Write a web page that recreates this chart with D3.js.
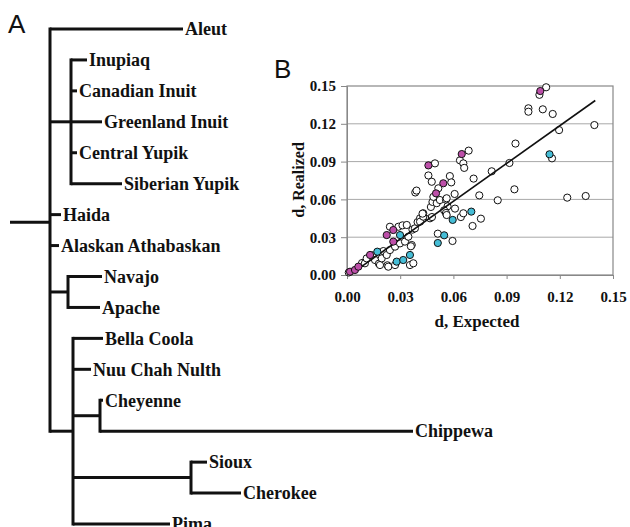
<!DOCTYPE html>
<html>
<head>
<meta charset="utf-8">
<script src="https://cdn.jsdelivr.net/npm/d3@7"></script>
<style>
  body { margin: 0; background: #fff; }
  svg text { font-family: "Liberation Serif", "Times New Roman", serif; font-weight: bold; fill: #111; }
  svg text.panel { font-family: "Liberation Sans", Arial, sans-serif; font-weight: normal; }
</style>
</head>
<body>
<div id="content"></div>
<script>
// panel A : tree, [node, parent, branch length]
var branches = [
  ["root", null, 0.040],
  ["Aleut", "root", 0.133],
  ["Eskimo", "root", 0.021],
  ["Inupiaq", "Eskimo", 0.016],
  ["Canadian Inuit", "Eskimo", 0.006],
  ["Greenland Inuit", "Eskimo", 0.031],
  ["Central Yupik", "Eskimo", 0.006],
  ["Siberian Yupik", "Eskimo", 0.051],
  ["Haida", "root", 0.011],
  ["Alaskan Athabaskan", "root", 0.009],
  ["Athabaskan", "root", 0.018],
  ["Navajo", "Athabaskan", 0.034],
  ["Apache", "Athabaskan", 0.032],
  ["Amerind", "root", 0.023],
  ["Bella Coola", "Amerind", 0.030],
  ["Nuu Chah Nulth", "Amerind", 0.018],
  ["Algonquian", "Amerind", 0.027],
  ["Cheyenne", "Algonquian", 0.003],
  ["Chippewa", "Algonquian", 0.313],
  ["SiouxCherokee", "Amerind", 0.118],
  ["Sioux", "SiouxCherokee", 0.016],
  ["Cherokee", "SiouxCherokee", 0.050],
  ["Pima", "Amerind", 0.097]
];

// panel B : [d expected, d realized]
var openPoints = [
  [0.001,0.002],[0.0085,0.0095],[0.0101,0.0093],[0.0111,0.0132],[0.0143,0.0156],[0.0158,0.0119],
  [0.018,0.009],[0.0186,0.0079],[0.0196,0.0132],[0.0205,0.019],[0.0224,0.0159],[0.0228,0.0077],
  [0.0233,0.0066],[0.0242,0.0198],[0.0271,0.0225],[0.0271,0.0079],[0.0299,0.0251],[0.0327,0.0265],
  [0.0346,0.0304],[0.0365,0.0238],[0.0355,0.0079],[0.0374,0.0093],[0.036,0.0228],
  [0.0242,0.0383],[0.029,0.0383],[0.0313,0.0394],[0.0337,0.0397],[0.0369,0.036],[0.0383,0.037],
  [0.0398,0.042],[0.0412,0.045],[0.043,0.049],[0.0412,0.0423],[0.043,0.0463],[0.0468,0.045],
  [0.0479,0.046],[0.0426,0.0487],[0.0385,0.0655],[0.0392,0.067],
  [0.0459,0.079],[0.0478,0.074],[0.0496,0.0886],[0.0473,0.054],[0.0482,0.058],[0.0506,0.057],
  [0.0515,0.0688],[0.0487,0.062],[0.0524,0.0595],
  [0.0558,0.0598],[0.0562,0.0609],[0.0567,0.0545],[0.0548,0.0513],[0.0609,0.0527],[0.0642,0.046],
  [0.0558,0.0492],[0.0562,0.0476],[0.0607,0.0643],[0.058,0.0785],[0.0588,0.0735],
  [0.0637,0.091],[0.0656,0.0886],[0.0661,0.085],[0.0686,0.0987],
  [0.0512,0.0328],[0.0595,0.027],[0.0656,0.049],[0.0708,0.0389],[0.0755,0.0447],
  [0.0714,0.0765],[0.0746,0.0632],[0.0816,0.0823],[0.085,0.0593],[0.0916,0.0889],[0.0944,0.068],
  [0.095,0.1043],[0.1023,0.1323],[0.1023,0.1296],[0.1085,0.143],[0.1123,0.149],[0.1104,0.1315],
  [0.116,0.1278],[0.1196,0.115],[0.1395,0.119],[0.1156,0.0926],[0.1242,0.0614],[0.1346,0.0627]
];
var magentaPoints = [
  [0.0017,0.0026],[0.0045,0.004],[0.0064,0.0066],[0.013,0.0159],[0.0224,0.0317],[0.0261,0.0357],
  [0.0261,0.0265],[0.0459,0.087],[0.0502,0.0648],[0.0543,0.0728],[0.0647,0.096],[0.109,0.146]
];
var cyanPoints = [
  [0.0171,0.0185],[0.028,0.0106],[0.0299,0.0317],[0.0317,0.0119],[0.0355,0.0159],
  [0.0512,0.0254],[0.0548,0.0315],[0.0596,0.0437],[0.0701,0.0503],[0.1142,0.0958]
];
var fitLine = {slope: 1.0, intercept: -0.0015, from: 0.002, to: 0.14};
var tickVals = [0, 0.03, 0.06, 0.09, 0.12, 0.15];

var svg = d3.select("#content")
  .append("svg")
  .attr("width", 630)
  .attr("height", 527);

//////////////////////////////////////////////
// Panel A

var root = d3.stratify().id(d => d[0]).parentId(d => d[1])(branches);
root.eachBefore(function(n) { n.dist = (n.parent ? n.parent.dist : 0) + n.data[2]; });

var leafNames = root.leaves().map(d => d.id);
var treeX = d3.scaleLinear().domain([0, d3.max(root.leaves(), d => d.dist)]).range([10, 413]);
var treeY = d3.scalePoint().domain(leafNames).range([29, 524]);

root.eachAfter(function(n) {
  if (!n.children) n.yy = treeY(n.id);
  else if (!n.parent) n.yy = d3.mean(n.children, c => c.yy);
  else n.yy = (n.children[0].yy + n.children[n.children.length - 1].yy) / 2;
});

var tree = svg.append("g");

// horizontal branches
tree.selectAll(".hbranch")
  .data(root.descendants())
  .join("line")
    .attr("class", "hbranch")
    .attr("x1", d => treeX(d.parent ? d.parent.dist : 0))
    .attr("x2", d => treeX(d.dist))
    .attr("y1", d => d.yy)
    .attr("y2", d => d.yy)
    .attr("stroke", "#111")
    .attr("stroke-width", 3);

// vertical connectors
tree.selectAll(".vbranch")
  .data(root.descendants().filter(d => d.children))
  .join("line")
    .attr("class", "vbranch")
    .attr("x1", d => treeX(d.dist))
    .attr("x2", d => treeX(d.dist))
    .attr("y1", d => d.children[0].yy - 1.5)
    .attr("y2", d => d.children[d.children.length - 1].yy + 1.5)
    .attr("stroke", "#111")
    .attr("stroke-width", 3);

tree.selectAll(".leafLabel")
  .data(root.leaves())
  .join("text")
    .attr("class", "leafLabel")
    .attr("x", d => treeX(d.dist) + 2)
    .attr("y", d => d.yy)
    .attr("dy", "0.35em")
    .style("font-size", "18px")
    .text(d => d.id);

svg.append("text").attr("class", "panel")
  .attr("x", 8).attr("y", 33)
  .style("font-size", "26px")
  .text("A");

//////////////////////////////////////////////
// Panel B

var x = d3.scaleLinear().domain([0, 0.15]).range([347, 613]);
var y = d3.scaleLinear().domain([0, 0.15]).range([275, 86]);

var plot = svg.append("g");

plot.selectAll(".grid")
  .data(tickVals.slice(1, 5))
  .join("line")
    .attr("class", "grid")
    .attr("x1", x(0)).attr("x2", x(0.15))
    .attr("y1", d => y(d)).attr("y2", d => y(d))
    .attr("stroke", "#a8a8a8")
    .attr("stroke-width", 1);

plot.append("rect")
  .attr("x", x(0)).attr("y", y(0.15))
  .attr("width", x(0.15) - x(0)).attr("height", y(0) - y(0.15))
  .attr("fill", "none")
  .attr("stroke", "#888")
  .attr("stroke-width", 1.2);

var xAxis = plot.append("g")
  .attr("transform", "translate(0," + y(0) + ")")
  .call(d3.axisBottom(x).tickValues(tickVals).tickFormat(d3.format(".2f")).tickSize(4).tickPadding(12));
var yAxis = plot.append("g")
  .attr("transform", "translate(" + x(0) + ",0)")
  .call(d3.axisLeft(y).tickValues(tickVals).tickFormat(d3.format(".2f")).tickSize(6).tickPadding(5));

[xAxis, yAxis].forEach(function(a) {
  a.select(".domain").attr("stroke", "#888");
  a.selectAll(".tick line").attr("stroke", "#888");
  a.selectAll("text")
    .attr("fill", "#111")
    .style("font-family", "'Liberation Serif', 'Times New Roman', serif")
    .style("font-weight", "bold")
    .style("font-size", "15px");
});

// points
function drawPoints(pts, fill, cls) {
  plot.selectAll("." + cls)
    .data(pts)
    .join("circle")
      .attr("class", cls)
      .attr("cx", d => x(d[0]))
      .attr("cy", d => y(d[1]))
      .attr("r", 3.6)
      .attr("fill", fill)
      .attr("stroke", "#111")
      .attr("stroke-width", 1);
}
drawPoints(openPoints, "#fff", "openPt");

plot.append("line")
  .attr("x1", x(fitLine.from))
  .attr("y1", y(fitLine.intercept + fitLine.slope * fitLine.from))
  .attr("x2", x(fitLine.to))
  .attr("y2", y(fitLine.intercept + fitLine.slope * fitLine.to))
  .attr("stroke", "#111")
  .attr("stroke-width", 1.6);

drawPoints(magentaPoints, "#bd4fa9", "magPt");
drawPoints(cyanPoints, "#45bdd6", "cyanPt");

// axis titles
plot.append("text")
  .attr("x", 477).attr("y", 327)
  .attr("text-anchor", "middle")
  .style("font-size", "17px")
  .text("d, Expected");

plot.append("text")
  .attr("transform", "translate(304,180) rotate(-90)")
  .attr("text-anchor", "middle")
  .style("font-size", "16px")
  .text("d, Realized");

svg.append("text").attr("class", "panel")
  .attr("x", 274).attr("y", 78)
  .style("font-size", "26px")
  .text("B");
</script>
</body>
</html>
